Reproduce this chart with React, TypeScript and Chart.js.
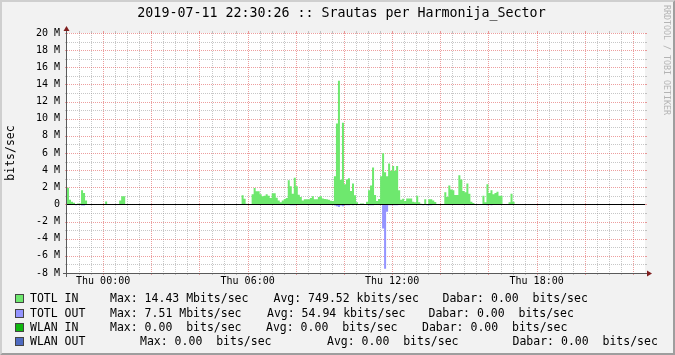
import React, { useEffect, useRef } from "react";
import { Chart, registerables } from "chart.js";

Chart.register(...registerables);

const TITLE = "2019-07-11 22:30:26 :: Srautas per Harmonija_Sector";
const Y_TITLE = "bits/sec";
const WATERMARK = "RRDTOOL / TOBI OETIKER";
const MONO = "'DejaVu Sans Mono', monospace";

// 24 h of 5-minute samples, x in hours relative to Thu 00:00
const SAMPLES = 288;
const START_H = -1.5;
const STEP_H = 5 / 60;
const X_TICK_VALUES = [0, 6, 12, 18];
const X_TICK_LABELS = ["Thu 00:00", "Thu 06:00", "Thu 12:00", "Thu 18:00"];
const Y_MIN = -8;
const Y_MAX = 20;
const Y_STEP = 2;

// Runs of consecutive 5-minute samples (Mbit/s); samples outside runs are 0
type Run = { start: number; values: number[] };

const totlInRuns: Run[] = [
  { start: 0, values: [1.96, 0.55, 0.31, 0.2, 0.05, 0.12, 0.12, 1.65, 1.33, 0.47] },
  { start: 19, values: [0.35] },
  { start: 26, values: [0.47, 0.94, 0.94] },
  { start: 87, values: [1.06, 0.67, 0.08, 0, 0, 1.2, 1.92, 1.53, 1.53, 1.2, 0.94, 1.02, 1.2, 1.02, 0.75, 1.3, 1.3, 0.78, 0.47, 0.24, 0.47, 0.63, 0.75] },
  { start: 110, values: [2.82, 2.12, 1.25, 3.1, 2.12, 1.14, 0.86, 0.47, 0.59, 0.59, 0.59, 0.75, 0.94, 0.59, 0.59] },
  { start: 125, values: [0.86, 0.94, 0.7, 0.63, 0.59, 0.55, 0.43, 0.39] },
  { start: 133, values: [3.3, 9.45, 14.43, 2.88, 9.53, 2.35, 2.9, 3.06, 1.57, 2.43, 1.06, 0.24, 0, 0.12, 0.12, 0, 0.31] },
  { start: 150, values: [1.65, 2.2, 4.3, 1.1, 0.39, 0.63, 3.3, 5.96, 3.76, 3.3, 4.78, 3.92, 4.47, 3.92, 4.47, 1.65] },
  { start: 166, values: [0.55, 0.67, 0.39, 0.7, 0.7, 0.7, 0.31, 0.24, 1.02, 0.24, 0.08, 0, 0.59, 0, 0.59, 0.59, 0.47, 0.27] },
  { start: 188, values: [1.41, 0.86, 2.2, 1.73, 1.65, 1.1, 1.1, 3.41, 2.9, 1.57, 1.41, 2.43, 1.25, 0.31, 0.16] },
  { start: 207, values: [1.02, 0.24, 2.35, 1.33, 1.65, 1.18, 1.33, 1.49, 1.02, 1.02] },
  { start: 220, values: [0.24, 1.25, 0.31] },
];

// outbound traffic is drawn below the zero line
const totlOutRuns: Run[] = [
  { start: 4, values: [0.1] },
  { start: 7, values: [0.12, 0.12] },
  { start: 111, values: [0.1, 0.1, 0.1] },
  { start: 133, values: [0.12, 0.2, 0.3, 0.12, 0.2, 0.1, 0.1, 0.1, 0, 0.1] },
  { start: 150, values: [0.1, 0.1, 0.1] },
  { start: 157, values: [2.8, 7.51, 0.86, 0.1, 0.1, 0.1, 0.1, 0.1] },
  { start: 177, values: [0.1, 0, 0.1, 0.1, 0.1] },
  { start: 209, values: [0.1, 0, 0.1] },
];
const wlanInRuns: Run[] = [];
const wlanOutRuns: Run[] = [];

const seriesNames = ["TOTL IN", "TOTL OUT", "WLAN IN", "WLAN OUT"];
const seriesColors = ["#6EE86E", "#9494FF", "#10B810", "#4F6BC1"];
const legendMax = ["Max: 14.43 Mbits/sec", "Max: 7.51 Mbits/sec", "Max: 0.00  bits/sec", "Max: 0.00  bits/sec"];
const legendAvg = ["Avg: 749.52 kbits/sec", "Avg: 54.94 kbits/sec", "Avg: 0.00  bits/sec", "Avg: 0.00  bits/sec"];
const legendNow = ["Dabar: 0.00  bits/sec", "Dabar: 0.00  bits/sec", "Dabar: 0.00  bits/sec", "Dabar: 0.00  bits/sec"];

// legend layout (px)
const LEGEND_ROW_Y = [298, 313, 327, 341];
const LEGEND_COL_X = [
  [110, 273.5, 442.5],
  [110, 267, 428.5],
  [110, 266, 422],
  [140, 327, 512.5],
];

function expand(runs: Run[], sign: number) {
  const vals: number[] = new Array(SAMPLES).fill(0);
  runs.forEach((r) => r.values.forEach((v, k) => { vals[r.start + k] = v * sign; }));
  const pts = vals.map((v, i) => ({ x: START_H + i * STEP_H, y: v }));
  pts.push({ x: START_H + SAMPLES * STEP_H, y: vals[SAMPLES - 1] });
  return pts;
}

const rrdPlugin = {
  id: "rrd",
  beforeDraw(chart: any) {
    const { ctx, width, height, chartArea: a } = chart;
    ctx.save();
    ctx.fillStyle = "#f2f2f2";
    ctx.fillRect(0, 0, width, height);
    ctx.fillStyle = "#cfcfcf";
    ctx.beginPath();
    ctx.moveTo(0, 0); ctx.lineTo(width, 0); ctx.lineTo(width - 2, 2); ctx.lineTo(2, 2);
    ctx.lineTo(2, height - 2); ctx.lineTo(0, height); ctx.closePath(); ctx.fill();
    ctx.fillStyle = "#9e9e9e";
    ctx.beginPath();
    ctx.moveTo(width, 0); ctx.lineTo(width, height); ctx.lineTo(0, height); ctx.lineTo(2, height - 2);
    ctx.lineTo(width - 2, height - 2); ctx.lineTo(width - 2, 2); ctx.closePath(); ctx.fill();
    ctx.fillStyle = "#ffffff";
    ctx.fillRect(a.left, a.top, a.right - a.left, a.bottom - a.top);
    ctx.restore();
  },
  beforeDatasetsDraw(chart: any) {
    const { ctx, chartArea: a } = chart;
    const xs = chart.scales.x;
    const ys = chart.scales.y;
    const minor = "rgba(143,143,143,0.5)";
    const major = "rgba(222,79,79,0.55)";
    ctx.save();
    ctx.lineWidth = 1;
    // vertical: every 30 minutes, major every 2 hours
    for (let k = 1; k < 48; k++) {
      const h = START_H + k * 0.5;
      const isMajor = Number.isInteger(h) && h % 2 === 0;
      const px = Math.round(xs.getPixelForValue(h)) + 0.5;
      ctx.strokeStyle = isMajor ? major : minor;
      ctx.setLineDash([]);
      ctx.beginPath();
      ctx.moveTo(px, a.top - 2); ctx.lineTo(px, a.top);
      ctx.moveTo(px, a.bottom); ctx.lineTo(px, a.bottom + 2);
      ctx.stroke();
      ctx.setLineDash([1, 1]);
      ctx.beginPath();
      ctx.moveTo(px, a.top); ctx.lineTo(px, a.bottom);
      ctx.stroke();
    }
    // horizontal: every 1 M, major every 2 M
    for (let v = Y_MIN; v <= Y_MAX; v++) {
      const isMajor = v % 2 === 0;
      const py = Math.round(ys.getPixelForValue(v)) + 0.5;
      ctx.strokeStyle = isMajor ? major : minor;
      ctx.setLineDash([]);
      ctx.beginPath();
      ctx.moveTo(a.left - 2, py); ctx.lineTo(a.left, py);
      ctx.moveTo(a.right, py); ctx.lineTo(a.right + 2, py);
      ctx.stroke();
      ctx.setLineDash([1, 1]);
      ctx.beginPath();
      ctx.moveTo(a.left, py); ctx.lineTo(a.right, py);
      ctx.stroke();
    }
    ctx.restore();
  },
  afterDatasetsDraw(chart: any) {
    const { ctx, chartArea: a } = chart;
    const ys = chart.scales.y;
    ctx.save();
    ctx.lineWidth = 1;
    // zero rule
    const y0 = Math.round(ys.getPixelForValue(0)) + 0.5;
    ctx.strokeStyle = "#000000";
    ctx.beginPath();
    ctx.moveTo(a.left, y0); ctx.lineTo(a.right, y0);
    ctx.stroke();
    // axes
    const ax = Math.round(a.left) - 0.5;
    const ay = Math.round(a.bottom) + 0.5;
    ctx.strokeStyle = "#5a5a5a";
    ctx.beginPath();
    ctx.moveTo(a.left - 4, ay); ctx.lineTo(a.right + 4, ay);
    ctx.moveTo(ax, a.bottom + 4); ctx.lineTo(ax, a.top - 4);
    ctx.stroke();
    // arrows
    ctx.fillStyle = "#801f1f";
    ctx.beginPath();
    ctx.moveTo(a.right + 2, ay - 3); ctx.lineTo(a.right + 2, ay + 3); ctx.lineTo(a.right + 7, ay);
    ctx.closePath(); ctx.fill();
    ctx.beginPath();
    ctx.moveTo(ax - 3, a.top - 2); ctx.lineTo(ax + 3, a.top - 2); ctx.lineTo(ax, a.top - 7);
    ctx.closePath(); ctx.fill();
    ctx.restore();
  },
};

export default function App() {
  const canvasRef = useRef<HTMLCanvasElement>(null);

  useEffect(() => {
    if (!canvasRef.current) return;
    const runs = [totlInRuns, totlOutRuns, wlanInRuns, wlanOutRuns];
    const signs = [1, -1, 1, -1];
    const chart = new Chart(canvasRef.current, {
      type: "line",
      data: {
        datasets: runs.map((r, i) => ({
          label: seriesNames[i],
          data: expand(r, signs[i]),
          backgroundColor: seriesColors[i],
          borderColor: seriesColors[i],
          borderWidth: 0,
          pointRadius: 0,
          stepped: true,
          fill: "origin",
        })),
      },
      options: {
        animation: false,
        responsive: false,
        maintainAspectRatio: false,
        devicePixelRatio: 1,
        events: [],
        layout: { padding: { top: 33, right: 30, bottom: 62, left: 0 } },
        plugins: {
          legend: { display: false },
          tooltip: { enabled: false },
          title: { display: false },
        },
        scales: {
          x: {
            type: "linear",
            min: START_H,
            max: START_H + SAMPLES * STEP_H,
            afterBuildTicks: (s: any) => { s.ticks = X_TICK_VALUES.map((v) => ({ value: v })); },
            afterFit: (s: any) => { s.height = 20; },
            ticks: {
              autoSkip: false,
              maxRotation: 0,
              padding: 2,
              color: "#000",
              font: { family: MONO, size: 10 },
              callback: (v: any) => X_TICK_LABELS[X_TICK_VALUES.indexOf(Number(v))] ?? "",
            },
            grid: { display: false, drawTicks: false },
            border: { display: false },
          },
          y: {
            min: Y_MIN,
            max: Y_MAX,
            afterFit: (s: any) => { s.width = 67; },
            ticks: {
              stepSize: Y_STEP,
              padding: 7,
              color: "#000",
              font: { family: MONO, size: 10 },
              callback: (v: any) => (Number(v) === 0 ? "0" : `${v} M`),
            },
            grid: { display: false, drawTicks: false },
            border: { display: false },
            title: {
              display: true,
              text: Y_TITLE,
              color: "#000",
              font: { family: MONO, size: 11.5 },
              padding: { top: 4, bottom: 0 },
            },
          },
        },
      },
      plugins: [rrdPlugin],
    } as any);
    return () => chart.destroy();
  }, []);

  const textStyle: React.CSSProperties = {
    position: "absolute",
    fontFamily: MONO,
    fontSize: "11.5px",
    lineHeight: "14px",
    whiteSpace: "pre",
    color: "#000",
  };

  return (
    <div style={{ position: "absolute", left: 0, top: 0, width: 675, height: 355, overflow: "hidden" }}>
      <canvas ref={canvasRef} width={675} height={355} style={{ position: "absolute", left: 0, top: 0, display: "block" }} />
      <div
        style={{
          position: "absolute", left: 0, top: 5, width: 683, textAlign: "center",
          fontFamily: MONO, fontSize: "13.3px", lineHeight: "16px", whiteSpace: "pre", color: "#000",
        }}
      >
        {TITLE}
      </div>
      <div
        style={{
          position: "absolute", left: 661, top: 5, width: 12, writingMode: "vertical-rl",
          fontFamily: MONO, fontSize: "8.3px", lineHeight: "12px", whiteSpace: "pre", color: "#b4b4b4",
        }}
      >
        {WATERMARK}
      </div>
      {seriesNames.map((name, r) => {
        const yc = LEGEND_ROW_Y[r];
        const top = yc - 6.8;
        return (
          <React.Fragment key={name}>
            <div
              style={{
                position: "absolute", left: 15, top: yc - 4.5, width: 7, height: 7,
                background: seriesColors[r], border: "1px solid #444",
              }}
            />
            <div style={{ ...textStyle, left: 30, top }}>{name}</div>
            <div style={{ ...textStyle, left: LEGEND_COL_X[r][0], top }}>{legendMax[r]}</div>
            <div style={{ ...textStyle, left: LEGEND_COL_X[r][1], top }}>{legendAvg[r]}</div>
            <div style={{ ...textStyle, left: LEGEND_COL_X[r][2], top }}>{legendNow[r]}</div>
          </React.Fragment>
        );
      })}
    </div>
  );
}
